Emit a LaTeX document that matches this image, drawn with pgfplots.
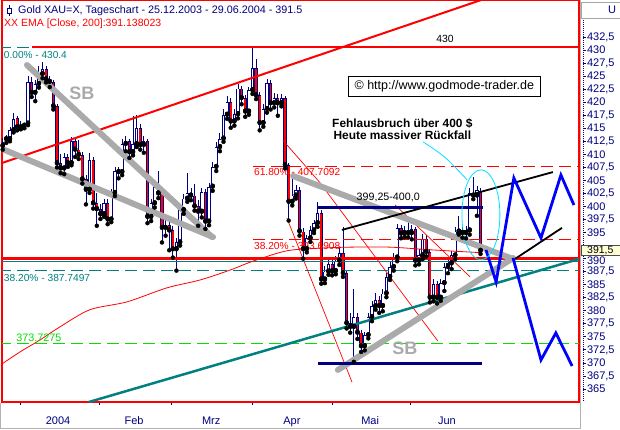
\documentclass[border=0pt]{standalone}
\usepackage{fontspec}
\setmainfont{Liberation Sans}
\usepackage{pgfplots}
\pgfplotsset{compat=1.18}
\usepackage{pgfplotstable}
\definecolor{navy}{RGB}{0,0,128}
\definecolor{tealc}{RGB}{0,128,128}
\definecolor{sbgray}{RGB}{170,170,170}
\definecolor{limec}{RGB}{0,225,0}
\definecolor{cyanc}{RGB}{0,225,255}
\definecolor{bluez}{RGB}{0,0,255}
\definecolor{boxyel}{RGB}{255,255,215}

\pgfplotstableread{
k o h l c
0 411.6 413.2 410.9 412.4
1 413.3 413.8 412.2 412.9
2 412.9 415.2 412.5 414.6
3 414.6 418.0 414.2 416.7
4 416.9 417.4 414.6 415.2
5 415.2 416.3 414.8 415.7
6 415.7 416.1 415.0 415.5
7 415.9 425.0 415.6 423.9
8 423.9 424.9 421.0 421.8
9 421.8 424.2 420.2 423.5
10 423.5 427.0 422.8 425.4
11 425.4 427.7 424.6 426.4
12 426.4 426.9 423.8 424.4
13 424.4 425.1 422.9 423.9
14 423.9 424.3 418.6 419.2
15 419.2 419.6 407.5 408.3
16 408.3 410.0 406.4 407.3
17 407.3 410.3 406.2 409.4
18 409.4 410.1 407.6 408.3
19 408.3 413.4 407.9 412.5
20 412.5 413.1 409.5 410.9
21 410.9 412.8 409.1 409.9
22 409.9 410.5 404.4 405.2
23 405.2 406.1 400.4 403.2
24 403.2 410.2 402.6 408.9
25 408.9 409.4 399.6 400.6
26 400.6 402.5 396.3 399.5
27 399.5 400.4 397.6 398.5
28 398.5 401.4 398.0 400.6
29 400.6 401.5 396.6 397.5
30 397.5 403.4 397.0 402.6
31 402.6 407.6 402.0 406.8
32 406.8 407.5 405.4 406.6
33 406.6 412.9 406.0 412.0
34 412.0 413.6 410.6 412.5
35 412.5 413.0 409.3 410.4
36 410.4 417.3 409.8 412.0
37 412.0 417.5 411.4 415.1
38 415.1 415.8 410.9 411.8
39 411.8 413.6 410.3 412.5
40 412.5 413.0 396.8 398.0
41 398.0 401.4 397.2 400.6
42 400.6 404.4 399.8 403.7
43 403.7 406.9 401.6 402.5
44 402.5 403.0 393.1 395.9
45 395.9 398.0 394.4 396.4
46 396.4 397.1 391.6 395.4
47 395.4 396.2 390.2 391.8
48 391.8 394.0 387.7 393.1
49 393.1 400.1 392.5 399.3
50 399.3 402.3 398.6 401.5
51 401.5 406.4 400.9 402.5
52 402.5 403.5 401.2 402.1
53 402.1 404.4 399.2 400.0
54 400.0 401.3 396.3 399.0
55 399.0 403.6 397.9 402.8
56 402.8 403.4 395.7 397.1
57 397.1 404.5 396.4 403.8
58 403.8 408.5 403.0 407.6
59 407.6 412.3 406.8 411.4
60 411.4 414.0 410.6 413.0
61 413.0 418.6 412.4 417.6
62 417.6 421.2 416.8 420.1
63 420.1 420.8 415.1 416.3
64 416.3 418.6 415.5 417.7
65 417.7 423.5 416.9 422.6
66 422.6 423.2 419.6 420.8
67 420.8 421.3 417.2 418.2
68 418.2 423.0 417.6 422.3
69 422.3 430.4 421.6 426.5
70 426.5 428.2 420.6 421.3
71 421.3 421.9 414.6 416.0
72 416.0 419.6 415.3 418.7
73 418.7 424.5 418.0 423.6
74 423.6 424.2 418.6 419.8
75 419.8 421.8 419.0 420.8
76 420.8 421.5 417.4 419.8
77 419.8 421.6 419.2 420.8
78 420.8 421.2 407.3 407.9
79 407.9 408.4 397.3 400.9
80 400.9 405.9 400.2 402.1
81 402.1 404.1 401.5 403.2
82 403.2 403.7 394.4 395.2
83 395.2 395.8 390.0 391.8
84 391.8 394.6 391.2 393.9
85 393.9 396.2 393.2 395.4
86 395.4 397.5 394.9 396.8
87 396.8 400.8 396.1 398.8
88 398.8 399.3 385.2 386.0
89 386.0 388.5 385.3 387.5
90 387.5 390.2 386.9 389.0
91 389.0 389.8 386.8 387.6
92 387.6 390.5 387.0 389.6
93 389.6 392.0 388.8 391.1
94 391.1 396.0 386.5 387.2
95 387.2 387.8 376.6 377.6
96 377.6 379.6 375.8 376.9
97 376.9 384.2 370.2 378.8
98 378.8 379.5 374.6 375.8
99 375.8 376.4 372.1 373.2
100 373.2 376.0 372.4 375.3
101 375.3 379.6 374.7 378.8
102 378.8 381.8 378.0 380.9
103 380.9 383.4 380.2 382.0
104 382.0 382.8 379.6 380.9
105 380.9 384.2 379.9 383.3
106 383.3 387.3 382.6 386.5
107 386.5 389.3 385.9 388.4
108 388.4 391.0 387.7 390.2
109 390.2 396.6 389.5 395.8
110 395.8 396.4 393.9 394.8
111 394.8 396.3 394.1 395.4
112 395.4 397.9 394.1 394.9
113 394.9 396.5 393.7 395.6
114 395.6 396.0 388.7 389.6
115 389.6 391.8 388.9 390.6
116 390.6 394.7 389.9 393.8
117 393.8 394.5 390.4 391.3
118 391.3 391.9 381.6 382.5
119 382.5 386.0 381.8 385.1
120 385.1 385.7 381.4 382.5
121 382.5 386.1 381.9 385.3
122 385.3 389.2 383.8 388.4
123 388.4 390.3 387.2 389.1
124 389.1 391.5 388.0 390.6
125 390.6 396.1 389.9 395.2
126 395.2 398.2 394.6 395.4
127 395.4 396.0 394.0 394.9
128 394.9 396.3 393.9 395.4
129 395.4 403.5 394.6 402.5
130 402.5 405.6 401.4 402.1
131 402.1 403.9 398.2 403.2
132 403.0 403.6 390.9 391.5
}\candles

\begin{document}
\begin{tikzpicture}
\begin{axis}[
  at={(2pt,27pt)}, anchor=south west,
  scale only axis, width=577pt, height=402pt,
  xmin=-0.19, xmax=159.2, ymin=362.5, ymax=439.6,
  axis line style={red, line width=1.4pt},
  clip=true,
  tick align=outside,
  ytick pos=right, yticklabel pos=right,
  ytick={365,367.5,370,372.5,375,377.5,380,382.5,385,387.5,395,397.5,400,402.5,405,407.5,410,412.5,415,417.5,420,422.5,425,427.5,430,432.5},
  extra y ticks={390,392.5}, extra y tick labels={390,},
  extra y tick style={y tick label style={yshift=-2.2pt}},
  ytick style={navy, line width=0.8pt, xshift=4pt},
  y tick label style={font=\fontsize{11}{12}\selectfont, text=navy, anchor=west, xshift=1.5pt},
  major tick length=3pt,
  xtick pos=left,
  xtick={4.78,26.6,46.5,69.1,91.2,112.5},
  xticklabels={},
  xtick style={navy, line width=0.8pt},
  extra x ticks={15.3,36.3,57.6,79.9,101.5,122.7},
  extra x tick labels={2004,Feb,Mrz,Apr,Mai,Jun},
  extra x tick style={major tick length=0pt},
  x tick label style={font=\fontsize{11}{12}\selectfont, text=navy, yshift=-11pt},
  /pgf/number format/.cd, fixed, precision=1, use comma, 1000 sep={}, assume math mode=true,
]
% ---- candles: wicks
\addplot[forget plot, only marks, mark=none,
  error bars/.cd, y dir=plus, y explicit, error mark=none,
  error bar style={navy, line width=0.8pt}]
  table[x=k, y=l, y error plus expr={\thisrow{h}-\thisrow{l}}] {\candles};
% ---- body outlines
\addplot[forget plot, only marks, mark=none,
  error bars/.cd, y dir=plus, y explicit, error mark=none,
  error bar style={navy, line width=3.2pt}]
  table[x=k, y expr={min(\thisrow{o},\thisrow{c})}, y error plus expr={max(abs(\thisrow{c}-\thisrow{o}),0.2)}] {\candles};
% ---- red bodies (falling)
\addplot[forget plot, only marks, mark=none,
  error bars/.cd, y dir=plus, y explicit, error mark=none,
  error bar style={red, line width=1.7pt}]
  table[x=k, y expr={min(\thisrow{o},\thisrow{c})+0.16}, y error plus expr={(\thisrow{c}<\thisrow{o}) ? max(\thisrow{o}-\thisrow{c}-0.32,0) : 0}] {\candles};
% ---- white bodies (rising)
\addplot[forget plot, only marks, mark=none,
  error bars/.cd, y dir=plus, y explicit, error mark=none,
  error bar style={white, line width=1.7pt}]
  table[x=k, y expr={min(\thisrow{o},\thisrow{c})+0.16}, y error plus expr={(\thisrow{c}>\thisrow{o}) ? max(\thisrow{c}-\thisrow{o}-0.32,0) : 0}] {\candles};

% ---- horizontal levels
\addplot[forget plot, tealc, line width=1pt, dash pattern=on 12pt off 6pt] coordinates {(-1,430.4) (160,430.4)};
\addplot[forget plot, red, line width=1.6pt] coordinates {(8.1,430.6) (160,430.6)};
\addplot[forget plot, tealc, line width=1pt, dash pattern=on 12pt off 6pt] coordinates {(-1,387.7497) (160,387.7497)};
\addplot[forget plot, limec, line width=1pt, dash pattern=on 12pt off 6pt] coordinates {(-1,373.7275) (160,373.7275)};
\addplot[forget plot, red, line width=1pt, dash pattern=on 12pt off 6pt] coordinates {(69.1,407.7092) (160,407.7092)};
\addplot[forget plot, red, line width=1pt, dash pattern=on 12pt off 6pt] coordinates {(69.1,393.6908) (160,393.6908)};
\addplot[forget plot, tealc, line width=1pt] coordinates {(-1,389.4) (160,389.4)};
\addplot[forget plot, red, line width=3pt] coordinates {(-1,390.0) (160,390.0)};
% ---- EMA 200
\addplot[forget plot, red, line width=0.8pt, smooth] coordinates {
(-0.19,369.8) (4.78,372.1) (10.3,374.4) (15.8,376.9) (24.1,380.2) (34.3,381.7)
(45.4,384.4) (54.5,385.9) (62.8,387.8) (69.1,389.5) (78.5,391.5) (87.7,392.0)
(96.0,392.2) (107.0,392.2) (118.0,391.7) (132.1,391.14)};
% ---- thin red fan lines
\addplot[forget plot, red, line width=0.7pt] coordinates {(77.4,412.7) (87.6,404.6)};
\addplot[forget plot, red, line width=0.7pt] coordinates {(78.5,397.8) (96.5,366.3)};
\addplot[forget plot, red, line width=0.7pt] coordinates {(87.6,404.6) (120.2,374.2)};
\addplot[forget plot, red, line width=0.7pt] coordinates {(108.4,400.3) (129.1,386.5)};
% ---- trend lines
\addplot[forget plot, red, line width=2pt] coordinates {(-1,408.15) (140,441.45)};
\addplot[forget plot, tealc, line width=2.5pt] coordinates {(23.8,362.5) (159.2,389.93)};
% ---- SB lines
\addplot[forget plot, sbgray, line width=6pt, line cap=round] coordinates {(6.71,427.13) (57.82,394.14)};
\addplot[forget plot, sbgray, line width=6pt, line cap=round] coordinates {(-0.75,411.21) (58.1,394.14)};
\addplot[forget plot, sbgray, line width=6pt, line cap=round] coordinates {(80.2,405.85) (140.97,389.93)};
\addplot[forget plot, sbgray, line width=6pt, line cap=round] coordinates {(92.6,368.65) (140.97,390.12)};
% ---- navy lines
\addplot[forget plot, navy, line width=3pt] coordinates {(87.1,399.9) (132.7,399.9)};
\addplot[forget plot, navy, line width=3pt] coordinates {(87.1,369.8) (132.4,369.8)};
% ---- black lines
\addplot[forget plot, black, line width=1.8pt] coordinates {(93.7,395.5) (152.0,406.6)};
\addplot[forget plot, black, line width=1.8pt] coordinates {(141.5,389.93) (154.5,395.9)};
% ---- blue projection
\addplot[forget plot, bluez, line width=2.8pt] coordinates {(133.5,391.66) (136.3,385.52) (141.2,405.46) (148.7,393.96) (154.2,406.04) (157.8,400.28)};
\addplot[forget plot, bluez, line width=2.8pt] coordinates {(140.97,390.12) (148.7,370.56) (152.8,375.74) (157.3,369.41)};
% ---- cyan annotation
\draw[cyanc, line width=0.8pt] (axis cs:132.1,398.4) ellipse [x radius=19pt, y radius=45pt];
\addplot[forget plot, cyanc, line width=0.8pt, smooth] coordinates {(116.1,412.4) (122.2,409.4) (128.3,405.1)};

% ---- texts
\node[anchor=west, inner sep=0pt, text=navy, font=\fontsize{10.8}{12}\selectfont] at (axis cs:4.23,437.5) {Gold XAU=X, Tageschart - 25.12.2003 - 29.06.2004 - 391.5};
\node[anchor=west, inner sep=0pt, text=red, font=\fontsize{10.5}{12}\selectfont] at (axis cs:0.36,435.0) {XX EMA [Close, 200]:391.138023};
\node[anchor=west, inner sep=0pt, text=tealc, font=\fontsize{10.1}{12}\selectfont] at (axis cs:0.3,429.0) {0.00\% - 430.4};
\node[inner sep=0pt, font=\fontsize{10.4}{12}\selectfont] at (axis cs:122.2,432.1) {430};
\node[anchor=west, inner sep=0pt, text=red, font=\fontsize{10.2}{12}\selectfont] at (axis cs:69.4,406.6) {61.80\% - 407.7092};
\node[anchor=west, inner sep=0pt, text=red, font=\fontsize{10.2}{12}\selectfont] at (axis cs:69.4,392.4) {38.20\% - 393.6908};
\node[anchor=west, inner sep=0pt, text=tealc, font=\fontsize{10.2}{12}\selectfont] at (axis cs:0.3,386.3) {38.20\% - 387.7497};
\node[anchor=south west, inner sep=0pt, text=limec, font=\fontsize{10.8}{12}\selectfont] at (axis cs:3.7,374.0) {373.7275};
\node[inner sep=0pt, font=\fontsize{10.7}{12}\selectfont] at (axis cs:106.5,401.7) {399,25-400,0};
\node[draw=black, fill=white, line width=0.8pt, minimum width=192pt, minimum height=20pt, inner sep=0pt, font=\fontsize{12.5}{14}\selectfont] at (axis cs:122.0,423.1) {© http://www.godmode-trader.de};
\node[align=center, inner sep=0pt, font=\bfseries\fontsize{11.9}{12}\selectfont] at (axis cs:110.4,414.85) {Fehlausbruch über 400 \$\\Heute massiver Rückfall};
\node[text=sbgray, font=\bfseries\fontsize{18}{18}\selectfont] at (axis cs:21.9,421.76) {SB};
\node[text=sbgray, font=\bfseries\fontsize{18}{18}\selectfont] at (axis cs:111.1,372.86) {SB};
\coordinate (lastp) at (axis cs:159.2,391.5);
\end{axis}
% ---- right panel and frame decorations
\draw[gray!60, line width=0.8pt] (580.5pt,0pt) -- (580.5pt,429pt);
\draw[gray!70, line width=0.8pt, fill=white] (581pt,411pt) rectangle (620pt,427pt);
\node[text=navy, font=\fontsize{11}{12}\selectfont] at (612pt,419pt) {U};
\draw[navy, line width=0.8pt, dash pattern=on 0.8pt off 1.2pt] (583pt,28pt) -- (583pt,409pt);
\draw[black!70, line width=0.6pt, fill=boxyel] ([yshift=-4.5pt]lastp -| 581pt,0) rectangle ([yshift=5.5pt]lastp -| 620pt,0);
\node[anchor=west, inner sep=0pt, font=\fontsize{10.5}{12}\selectfont] at ([yshift=0.5pt]lastp -| 587pt,0) {391,5};
\draw[gray!60, line width=0.8pt] (0.5pt,26pt) -- (0.5pt,0.8pt) -- (580.5pt,0.8pt);
% title icon
\draw[navy, line width=0.8pt] (9pt,424pt) -- (9pt,413pt);
\draw[navy, line width=0.8pt, fill=white] (7pt,416pt) rectangle (11pt,421pt);
\pgfresetboundingbox
\path[use as bounding box] (0,0) rectangle (620pt,429pt);
\end{tikzpicture}
\end{document}
